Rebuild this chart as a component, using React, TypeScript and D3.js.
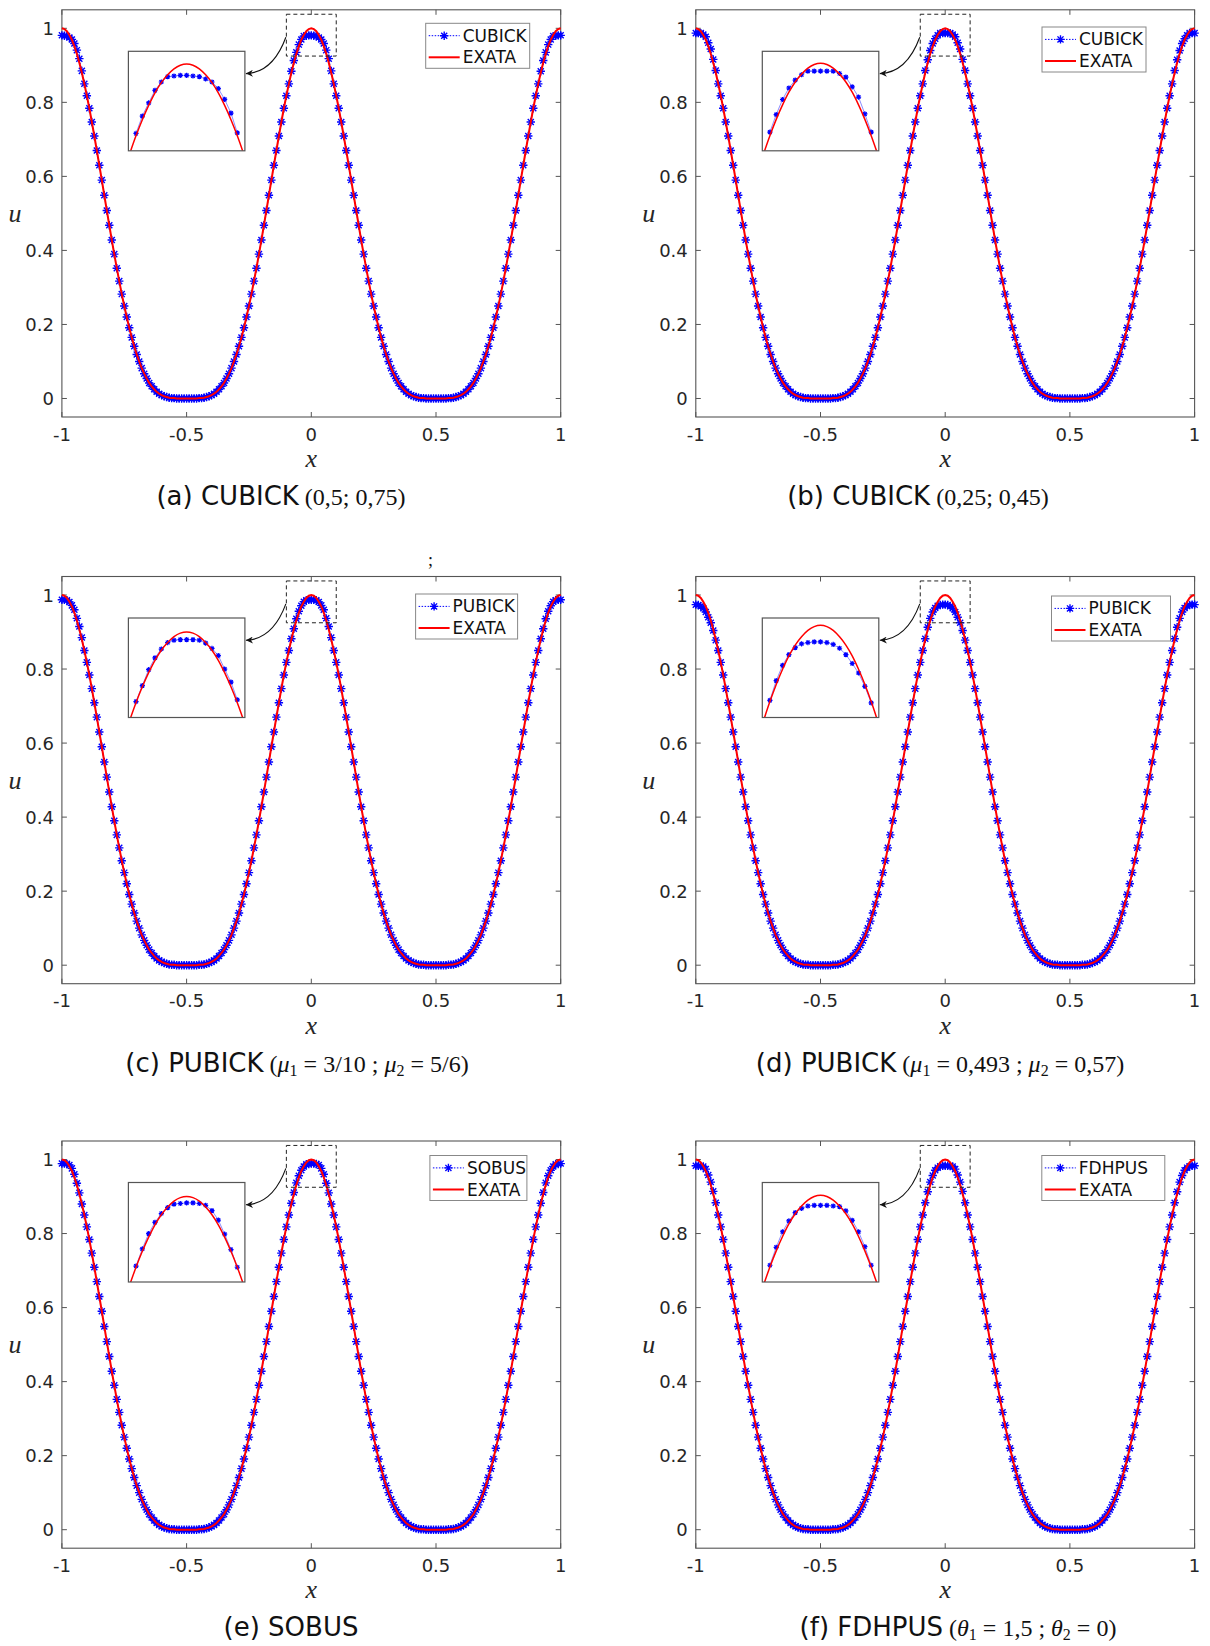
import React, { useEffect, useRef } from "react";
import * as d3 from "d3";

// tick values
const xTicks = [-1, -0.5, 0, 0.5, 1];
const yTicks = [0, 0.2, 0.4, 0.6, 0.8, 1];

// grid used by both solutions (x = -1 ... 1, step 0.01)
const xGrid = d3.range(201).map((i) => -1 + i / 100);

// exact solution
const exactU = [
  1, 0.998, 0.992, 0.982, 0.969, 0.952, 0.931, 0.907, 0.88, 0.85,
  0.818, 0.784, 0.747, 0.709, 0.67, 0.63, 0.59, 0.549, 0.508, 0.468,
  0.428, 0.39, 0.352, 0.317, 0.282, 0.25, 0.22, 0.191, 0.165, 0.141,
  0.119, 0.1, 0.082, 0.067, 0.054, 0.042, 0.033, 0.025, 0.018, 0.013,
  0.009, 0.006, 0.004, 0.002, 0.001, 0.001, 0, 0, 0, 0,
  0,
  0, 0, 0, 0, 0.001, 0.001, 0.002, 0.004, 0.006, 0.009,
  0.013, 0.018, 0.025, 0.033, 0.042, 0.054, 0.067, 0.082, 0.1, 0.119,
  0.141, 0.165, 0.191, 0.22, 0.25, 0.282, 0.317, 0.352, 0.39, 0.428,
  0.468, 0.508, 0.549, 0.59, 0.63, 0.67, 0.709, 0.747, 0.784, 0.818,
  0.85, 0.88, 0.907, 0.931, 0.952, 0.969, 0.982, 0.992, 0.998, 1,
  0.998, 0.992, 0.982, 0.969, 0.952, 0.931, 0.907, 0.88, 0.85, 0.818,
  0.784, 0.747, 0.709, 0.67, 0.63, 0.59, 0.549, 0.508, 0.468, 0.428,
  0.39, 0.352, 0.317, 0.282, 0.25, 0.22, 0.191, 0.165, 0.141, 0.119,
  0.1, 0.082, 0.067, 0.054, 0.042, 0.033, 0.025, 0.018, 0.013, 0.009,
  0.006, 0.004, 0.002, 0.001, 0.001, 0, 0, 0, 0, 0,
  0, 0, 0, 0, 0.001, 0.001, 0.002, 0.004, 0.006, 0.009,
  0.013, 0.018, 0.025, 0.033, 0.042, 0.054, 0.067, 0.082, 0.1, 0.119,
  0.141, 0.165, 0.191, 0.22, 0.25, 0.282, 0.317, 0.352, 0.39, 0.428,
  0.468, 0.508, 0.549, 0.59, 0.63, 0.67, 0.709, 0.747, 0.784, 0.818,
  0.85, 0.88, 0.907, 0.931, 0.952, 0.969, 0.982, 0.992, 0.998, 1,
];

// numerical solution around the peak, x = -0.08 ... 0.08
const peakA = [0.884, 0.913, 0.935, 0.956, 0.97, 0.979, 0.98, 0.981, 0.981, 0.98, 0.979, 0.975, 0.97, 0.959, 0.941, 0.918, 0.885];
const peakB = [0.886, 0.915, 0.94, 0.959, 0.972, 0.981, 0.987, 0.987, 0.987, 0.987, 0.987, 0.983, 0.977, 0.961, 0.944, 0.916, 0.886];
const peakC = [0.882, 0.909, 0.936, 0.956, 0.971, 0.982, 0.986, 0.987, 0.987, 0.987, 0.986, 0.981, 0.972, 0.96, 0.937, 0.915, 0.885];
const peakD = [0.882, 0.913, 0.937, 0.954, 0.965, 0.971, 0.973, 0.974, 0.974, 0.973, 0.97, 0.964, 0.954, 0.94, 0.925, 0.904, 0.878];
const peakE = [0.882, 0.911, 0.937, 0.956, 0.971, 0.981, 0.987, 0.988, 0.989, 0.989, 0.988, 0.985, 0.976, 0.96, 0.936, 0.91, 0.88];
const peakF = [0.883, 0.913, 0.939, 0.957, 0.971, 0.978, 0.982, 0.983, 0.983, 0.983, 0.982, 0.981, 0.974, 0.958, 0.939, 0.914, 0.883];
const peaks = [peakA, peakB, peakC, peakD, peakE, peakF];

// upper limit of each zoom inset
const insetTop = [1.0213, 1.0198, 1.0236, 1.0116, 1.0236, 1.0213];
const insetBottom = 0.855;

const schemes = ["CUBICK", "CUBICK", "PUBICK", "PUBICK", "SOBUS", "FDHPUS"];
const exactName = "EXATA";
const captionTags = ["(a) CUBICK", "(b) CUBICK", "(c) PUBICK", "(d) PUBICK", "(e) SOBUS", "(f) FDHPUS"];
// n = normal, i = italic, s = subscript
const captionMath = [
  [["(0,5; 0,75)", "n"]],
  [["(0,25; 0,45)", "n"]],
  [["(", "n"], ["μ", "i"], ["1", "s"], [" = 3/10 ; ", "n"], ["μ", "i"], ["2", "s"], [" = 5/6)", "n"]],
  [["(", "n"], ["μ", "i"], ["1", "s"], [" = 0,493 ; ", "n"], ["μ", "i"], ["2", "s"], [" = 0,57)", "n"]],
  [],
  [["(", "n"], ["θ", "i"], ["1", "s"], [" = 1,5 ; ", "n"], ["θ", "i"], ["2", "s"], [" = 0)", "n"]],
];

const W = 1210;
const H = 1646;
const colLeft = [61.9, 695.8];
const rowTop = [9.8, 576.5, 1141];
const plotW = 498.8;
const plotH = 407.2;
const captionX = [281, 918, 297, 940, 291, 958];
const legendBox = [
  { dx: 363.8, dy: 13.5, w: 104 },
  { dx: 346.2, dy: 17.2, w: 104 },
  { dx: 353.7, dy: 17.5, w: 102 },
  { dx: 355.7, dy: 19.5, w: 119 },
  { dx: 368, dy: 14.5, w: 97 },
  { dx: 346, dy: 14.5, w: 123 },
];

const sans = "'DejaVu Sans', Verdana, sans-serif";
const serif = "'Liberation Serif', 'DejaVu Serif', serif";
const axisColor = "#555";
const textColor = "#262626";
const blue = "#0000ff";
const red = "#ff0000";

// matlab style '*' marker
function star(r: number) {
  const d = r * 0.72;
  return `M${-r},0H${r}M0,${-r}V${r}M${-d},${-d}L${d},${d}M${-d},${d}L${d},${-d}`;
}

function drawPanel(svg: any, p: number) {
  const left = colLeft[p % 2];
  const top = rowTop[Math.floor(p / 2)];
  const x = d3.scaleLinear().domain([-1, 1]).range([left, left + plotW]);
  const y = d3.scaleLinear().domain([-0.05, 1.05]).range([top + plotH, top]);
  const g = svg.append("g");
  const tick = 5;

  // axes box and ticks
  g.append("rect")
    .attr("x", left).attr("y", top).attr("width", plotW).attr("height", plotH)
    .attr("fill", "none").attr("stroke", axisColor).attr("stroke-width", 1.1);

  xTicks.forEach((t) => {
    g.append("line").attr("x1", x(t)).attr("x2", x(t))
      .attr("y1", top + plotH).attr("y2", top + plotH - tick)
      .attr("stroke", axisColor);
    g.append("line").attr("x1", x(t)).attr("x2", x(t))
      .attr("y1", top).attr("y2", top + tick)
      .attr("stroke", axisColor);
    g.append("text").attr("x", x(t)).attr("y", top + plotH + 23.5)
      .attr("text-anchor", "middle").attr("font-family", sans).attr("font-size", 18)
      .attr("fill", textColor).text(String(t));
  });
  yTicks.forEach((t) => {
    g.append("line").attr("x1", left).attr("x2", left + tick)
      .attr("y1", y(t)).attr("y2", y(t)).attr("stroke", axisColor);
    g.append("line").attr("x1", left + plotW).attr("x2", left + plotW - tick)
      .attr("y1", y(t)).attr("y2", y(t)).attr("stroke", axisColor);
    g.append("text").attr("x", left - 8).attr("y", y(t) + 6.5)
      .attr("text-anchor", "end").attr("font-family", sans).attr("font-size", 18)
      .attr("fill", textColor).text(String(t));
  });

  g.append("text").attr("x", x(0)).attr("y", top + plotH + 50)
    .attr("text-anchor", "middle").attr("font-family", serif).attr("font-style", "italic")
    .attr("font-size", 26).attr("fill", textColor).text("x");
  g.append("text").attr("x", left - 47).attr("y", top + 212)
    .attr("text-anchor", "middle").attr("font-family", serif).attr("font-style", "italic")
    .attr("font-size", 26).attr("fill", textColor).text("u");

  // numerical solution (peaks from insets, rest on the exact curve)
  const peak = peaks[p];
  const num = [
    ...peak.slice(8),
    ...exactU.slice(9, 92),
    ...peak,
    ...exactU.slice(109, 192),
    ...peak.slice(0, 9),
  ];

  const line = d3.line<number>().x((d, i) => x(xGrid[i])).y((d) => y(d));
  g.append("path").attr("d", line(num)).attr("fill", "none")
    .attr("stroke", blue).attr("stroke-width", 0.8).attr("stroke-dasharray", "1.5,1.5");
  g.append("g").selectAll("path").data(num).join("path")
    .attr("d", star(4.2))
    .attr("transform", (d: number, i: number) => `translate(${x(xGrid[i])},${y(d)})`)
    .attr("fill", "none").attr("stroke", blue).attr("stroke-width", 1.4);
  g.append("path").attr("d", line(exactU)).attr("fill", "none")
    .attr("stroke", red).attr("stroke-width", 2);

  // dashed zoom window
  g.append("rect")
    .attr("x", x(-0.1)).attr("y", y(1.038))
    .attr("width", x(0.1) - x(-0.1)).attr("height", y(0.925) - y(1.038))
    .attr("fill", "none").attr("stroke", "#222").attr("stroke-width", 1)
    .attr("stroke-dasharray", "4,3");

  // inset
  const il = left + 66.5;
  const it = top + 41.5;
  const iw = 116.5;
  const ih = 99.5;
  const ix = d3.scaleLinear().domain([-0.092, 0.092]).range([il, il + iw]);
  const iy = d3.scaleLinear().domain([insetBottom, insetTop[p]]).range([it + ih, it]);
  const clipId = `inset-clip-${p}`;
  svg.select("defs").append("clipPath").attr("id", clipId)
    .append("rect").attr("x", il).attr("y", it).attr("width", iw).attr("height", ih);

  g.append("rect").attr("x", il).attr("y", it).attr("width", iw).attr("height", ih)
    .attr("fill", "#fff");
  const ig = g.append("g").attr("clip-path", `url(#${clipId})`);
  const peakX = xGrid.slice(92, 109);
  const iNumLine = d3.line<number>().x((d, i) => ix(peakX[i])).y((d) => iy(d));
  ig.append("path").attr("d", iNumLine(peak)).attr("fill", "none")
    .attr("stroke", "#8c8cff").attr("stroke-width", 1);
  ig.selectAll(".im").data(peak).join("path")
    .attr("d", star(2.6))
    .attr("transform", (d: number, i: number) => `translate(${ix(peakX[i])},${iy(d)})`)
    .attr("fill", "none").attr("stroke", blue).attr("stroke-width", 1.2);
  const exX = xGrid.slice(86, 115);
  const iExLine = d3.line<number>().x((d, i) => ix(exX[i])).y((d) => iy(d)).curve(d3.curveCatmullRom);
  ig.append("path").attr("d", iExLine(exactU.slice(86, 115))).attr("fill", "none")
    .attr("stroke", red).attr("stroke-width", 1.5);
  g.append("rect").attr("x", il).attr("y", it).attr("width", iw).attr("height", ih)
    .attr("fill", "none").attr("stroke", axisColor).attr("stroke-width", 1.2);

  // arrow from the zoom window to the inset
  const sx = x(-0.1) - 0.5;
  const sy = y(0.976);
  const ex = il + iw + 1;
  const ey = it + 22.3;
  g.append("path")
    .attr("d", `M${sx},${sy}Q${sx - 13},${ey - 1} ${ex},${ey}`)
    .attr("fill", "none").attr("stroke", "#111").attr("stroke-width", 1.1)
    .attr("marker-end", "url(#arrowhead)");

  // legend
  const lb = legendBox[p];
  const lx = left + lb.dx;
  const ly = top + lb.dy;
  g.append("rect").attr("x", lx).attr("y", ly).attr("width", lb.w).attr("height", 45)
    .attr("fill", "#fff").attr("stroke", "#888").attr("stroke-width", 1);
  const r1 = ly + 12.4;
  const r2 = ly + 34;
  g.append("line").attr("x1", lx + 3).attr("x2", lx + 34).attr("y1", r1).attr("y2", r1)
    .attr("stroke", blue).attr("stroke-width", 1).attr("stroke-dasharray", "1.5,1.5");
  g.append("path").attr("d", star(4.2)).attr("transform", `translate(${lx + 18.5},${r1})`)
    .attr("fill", "none").attr("stroke", blue).attr("stroke-width", 1.4);
  g.append("line").attr("x1", lx + 3).attr("x2", lx + 34).attr("y1", r2).attr("y2", r2)
    .attr("stroke", red).attr("stroke-width", 2);
  g.append("text").attr("x", lx + 37).attr("y", r1 + 6).attr("font-family", sans)
    .attr("font-size", 17).attr("fill", "#111").text(schemes[p]);
  g.append("text").attr("x", lx + 37).attr("y", r2 + 6).attr("font-family", sans)
    .attr("font-size", 17).attr("fill", "#111").text(exactName);

  // caption
  const cap = g.append("text").attr("x", captionX[p]).attr("y", top + plotH + 88)
    .attr("text-anchor", "middle").attr("fill", "#111").style("white-space", "pre");
  cap.append("tspan").attr("font-family", sans).attr("font-size", 26).text(captionTags[p]);
  let shifted = false;
  captionMath[p].forEach(([s, k], j) => {
    const t = cap.append("tspan").attr("font-family", serif)
      .attr("font-size", k === "s" ? 16 : 24)
      .text((j === 0 ? " " : "") + s);
    if (k === "i") t.attr("font-style", "italic");
    if (k === "s") {
      t.attr("dy", 4);
      shifted = true;
    } else if (shifted) {
      t.attr("dy", -4);
      shifted = false;
    }
  });
}

export default function App() {
  const svgRef = useRef<SVGSVGElement>(null);

  useEffect(() => {
    const svg = d3.select(svgRef.current);
    svg.selectAll("*").remove();
    svg.attr("width", W).attr("height", H).style("background", "#fff");

    const defs = svg.append("defs");
    defs.append("marker").attr("id", "arrowhead")
      .attr("viewBox", "0 0 10 10").attr("refX", 10).attr("refY", 5)
      .attr("markerWidth", 8).attr("markerHeight", 7)
      .attr("markerUnits", "userSpaceOnUse").attr("orient", "auto")
      .append("path").attr("d", "M0,0L10,5L0,10L3,5Z").attr("fill", "#111");

    for (let p = 0; p < 6; p++) drawPanel(svg, p);

    // stray semicolon between the rows
    svg.append("text").attr("x", 428).attr("y", 566).attr("font-family", serif)
      .attr("font-size", 18).attr("fill", "#111").text(";");
  }, []);

  return (
    <div style={{ position: "absolute", left: 0, top: 0 }}>
      <svg ref={svgRef}></svg>
    </div>
  );
}
